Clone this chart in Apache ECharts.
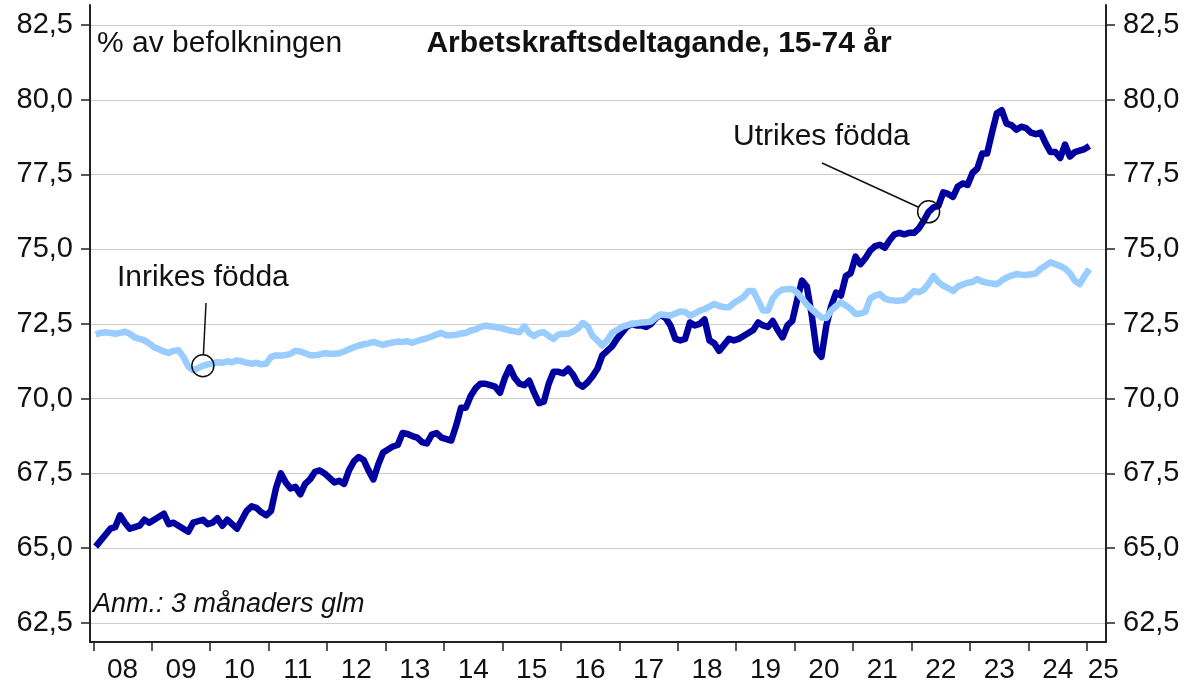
<!DOCTYPE html>
<html>
<head>
<meta charset="utf-8">
<script src="https://cdn.jsdelivr.net/npm/echarts@6.0.0/dist/echarts.min.js"></script>
<style>
  html, body { margin: 0; padding: 0; background: #fff; }
  #chart { width: 1193px; height: 688px; }
</style>
</head>
<body>
<div id="chart"></div>
<script>
// monthly data, 3 month moving average, Jan 2008 - Jan 2025
const startYear = 2008
const yearLabels = ['08', '09', '10', '11', '12', '13', '14', '15', '16', '17', '18', '19', '20', '21', '22', '23', '24', '25']
const yTicks = [62.5, 65, 67.5, 70, 72.5, 75, 77.5, 80, 82.5]

// Utrikes födda
const utrikes = [
  65.05, 65.25, 65.45, 65.65, 65.7, 66.1, 65.85, 65.65, 65.7, 65.75, 65.95, 65.85,
  65.95, 66.05, 66.15, 65.8, 65.85, 65.75, 65.65, 65.55, 65.85, 65.9, 65.95, 65.8,
  65.85, 66.0, 65.75, 65.95, 65.8, 65.65, 65.95, 66.25, 66.4, 66.35, 66.2, 66.1,
  66.25, 67.0, 67.5, 67.2, 67.0, 67.05, 66.8, 67.15, 67.3, 67.55, 67.6, 67.5,
  67.35, 67.2, 67.25, 67.15, 67.6, 67.9, 68.05, 67.95, 67.6, 67.3, 67.8, 68.2,
  68.3, 68.4, 68.45, 68.85, 68.82, 68.75, 68.7, 68.55, 68.5, 68.8, 68.85, 68.7,
  68.65, 68.6, 69.1, 69.7, 69.7, 70.1, 70.35, 70.5, 70.5, 70.45, 70.4, 70.2,
  70.7, 71.05, 70.7, 70.5, 70.45, 70.6, 70.2, 69.85, 69.9, 70.5, 70.9, 70.9,
  70.85, 71.0, 70.8, 70.5, 70.4, 70.55, 70.75, 71.0, 71.45, 71.6, 71.75, 72.0,
  72.2, 72.4, 72.5, 72.45, 72.45, 72.4, 72.5, 72.7, 72.8, 72.7, 72.45, 72.0,
  71.95, 72.0, 72.55, 72.45, 72.5, 72.65, 71.95, 71.85, 71.6, 71.8, 72.0, 71.95,
  72.0, 72.1, 72.2, 72.3, 72.55, 72.45, 72.4, 72.6, 72.3, 72.05, 72.45, 72.6,
  73.3, 73.95, 73.75, 72.8, 71.6, 71.4, 72.45, 73.1, 73.55, 73.45, 74.1, 74.2,
  74.75, 74.5, 74.7, 74.95, 75.1, 75.15, 75.05, 75.3, 75.5, 75.55, 75.5, 75.55,
  75.55, 75.7, 75.95, 76.25, 76.4, 76.45, 76.9, 76.85, 76.75, 77.1, 77.2, 77.15,
  77.55, 77.7, 78.2, 78.2, 78.9, 79.55, 79.65, 79.2, 79.15, 79.0, 79.1, 79.05,
  78.9, 78.85, 78.9, 78.55, 78.25, 78.25, 78.05, 78.5, 78.1, 78.25, 78.3, 78.35,
  78.45
]

// Inrikes födda
const inrikes = [
  72.15, 72.2, 72.22, 72.2, 72.17, 72.2, 72.24, 72.17, 72.05, 72.0, 71.95, 71.85,
  71.72, 71.65, 71.58, 71.53, 71.6, 71.62, 71.4, 71.08, 70.95, 71.02, 71.1, 71.15,
  71.17, 71.22, 71.2, 71.25, 71.22, 71.28, 71.25, 71.2, 71.17, 71.2, 71.15, 71.17,
  71.4, 71.45, 71.44, 71.46, 71.5, 71.6, 71.58, 71.52, 71.45, 71.45, 71.48, 71.52,
  71.5, 71.5, 71.52, 71.58, 71.65, 71.72, 71.78, 71.82, 71.85, 71.9, 71.85, 71.8,
  71.85, 71.88, 71.91, 71.9, 71.92, 71.87, 71.93, 71.98, 72.02, 72.08, 72.15, 72.2,
  72.12, 72.12, 72.14, 72.18, 72.2, 72.28, 72.32, 72.4, 72.44, 72.42, 72.4, 72.37,
  72.33, 72.28, 72.25, 72.22, 72.42, 72.2, 72.1, 72.2, 72.22, 72.1, 72.0, 72.15,
  72.17, 72.17, 72.25, 72.35, 72.53, 72.42, 72.1, 71.95, 71.78, 71.95, 72.2, 72.3,
  72.4, 72.45, 72.5, 72.52, 72.55, 72.56, 72.58, 72.72, 72.82, 72.8, 72.78, 72.85,
  72.92, 72.9, 72.78, 72.85, 72.94, 73.0, 73.08, 73.17, 73.1, 73.06, 73.06, 73.2,
  73.3, 73.4, 73.6, 73.6, 73.28, 72.95, 72.95, 73.35, 73.55, 73.65, 73.67, 73.67,
  73.55, 73.35, 73.15, 73.0, 72.85, 72.72, 72.7, 72.95, 73.1, 73.22, 73.12, 73.0,
  72.83, 72.85, 72.9, 73.35, 73.45, 73.5, 73.35, 73.3, 73.28, 73.28, 73.3, 73.45,
  73.6, 73.56, 73.65, 73.85, 74.1, 73.9, 73.78, 73.7, 73.6, 73.75, 73.82, 73.88,
  73.9, 74.0, 73.92, 73.88, 73.85, 73.83, 73.95, 74.05, 74.12, 74.17, 74.15, 74.14,
  74.16, 74.19, 74.35, 74.45, 74.56, 74.5, 74.44, 74.35, 74.2, 73.95, 73.83, 74.1,
  74.33
]

const FONT = '"Liberation Sans", Arial, sans-serif'
const monthX = i => startYear + (i + 0.5) / 12
const toPairs = arr => arr.map((v, i) => [monthX(i), v])

const yearTicks = yearLabels.map((l, i) => startYear + i)
const yearLabelPos = yearLabels.map((l, i) => i < yearLabels.length - 1 ? startYear + i + 0.5 : startYear + i + 0.28)

const yMin = 61.86
const yMax = 83.17

function yAxisDef (pos) {
  return {
    type: 'value',
    position: pos,
    min: yMin,
    max: yMax,
    axisLine: { show: true, lineStyle: { color: '#222', width: 2 } },
    axisTick: { show: true, inside: false, length: 9, customValues: yTicks, lineStyle: { color: '#222', width: 1.5 } },
    axisLabel: {
      customValues: yTicks,
      margin: 17,
      fontFamily: FONT,
      fontSize: 29,
      color: '#111',
      formatter: v => v.toFixed(1).replace('.', ',')
    },
    splitLine: { show: pos === 'left', lineStyle: { color: '#cccccc', width: 1 } }
  }
}

const myChart = echarts.init(document.getElementById('chart'))

const option = {
  animation: false,
  backgroundColor: '#ffffff',
  grid: { left: 90, right: 87, top: 5, bottom: 46, containLabel: false, outerBoundsMode: 'none' },
  xAxis: {
    type: 'value',
    min: 2007.944,
    max: 2025.326,
    axisLine: { show: true, onZero: false, lineStyle: { color: '#222', width: 2 } },
    axisTick: { show: true, length: 9, customValues: yearTicks, lineStyle: { color: '#222', width: 1.5 } },
    axisLabel: {
      customValues: yearLabelPos,
      margin: 14,
      fontFamily: FONT,
      fontSize: 28,
      color: '#111',
      formatter: v => yearLabels[Math.floor(v) - startYear]
    },
    splitLine: { show: false }
  },
  yAxis: [yAxisDef('left'), yAxisDef('right')],
  series: [
    {
      name: 'Utrikes födda',
      type: 'line',
      data: toPairs(utrikes),
      symbol: 'none',
      lineStyle: { color: '#0000a0', width: 6.5, join: 'round' },
      z: 3
    },
    {
      name: 'Inrikes födda',
      type: 'line',
      data: toPairs(inrikes),
      symbol: 'none',
      lineStyle: { color: '#99ccff', width: 6.5, join: 'round' },
      z: 4
    }
  ]
}
option && myChart.setOption(option)

// annotations: texts, leader lines and circles round the marked points
function leader (start, center, r) {
  const dx = start[0] - center[0]
  const dy = start[1] - center[1]
  const d = Math.sqrt(dx * dx + dy * dy)
  return [center[0] + dx / d * r, center[1] + dy / d * r]
}

const inrC = myChart.convertToPixel({ gridIndex: 0 }, [monthX(22), inrikes[22]])
const utrC = myChart.convertToPixel({ gridIndex: 0 }, [monthX(171), utrikes[171]])
const inrStart = [206, 303]
const utrStart = [822, 163]
const inrEnd = leader(inrStart, inrC, 11)
const utrEnd = leader(utrStart, utrC, 11)

const txt = (x, y, text, extra) => ({
  type: 'text',
  x: x,
  y: y,
  z: 10,
  style: Object.assign({ text: text, fill: '#111', font: '30px ' + FONT, verticalAlign: 'middle', align: 'left' }, extra || {})
})

myChart.setOption({
  graphic: [
    txt(97, 44, '% av befolkningen'),
    txt(659, 44, 'Arbetskraftsdeltagande, 15-74 år', { font: 'bold 30px ' + FONT, align: 'center' }),
    txt(117, 278, 'Inrikes födda'),
    txt(733, 137, 'Utrikes födda'),
    txt(93, 604, 'Anm.: 3 månaders glm', { font: 'italic 27px ' + FONT }),
    { type: 'line', z: 10, shape: { x1: inrStart[0], y1: inrStart[1], x2: inrEnd[0], y2: inrEnd[1] }, style: { stroke: '#111', lineWidth: 1.5 } },
    { type: 'line', z: 10, shape: { x1: utrStart[0], y1: utrStart[1], x2: utrEnd[0], y2: utrEnd[1] }, style: { stroke: '#111', lineWidth: 1.5 } },
    { type: 'circle', z: 10, shape: { cx: inrC[0], cy: inrC[1], r: 11 }, style: { stroke: '#111', lineWidth: 1.5, fill: 'transparent' } },
    { type: 'circle', z: 10, shape: { cx: utrC[0], cy: utrC[1], r: 11 }, style: { stroke: '#111', lineWidth: 1.5, fill: 'transparent' } }
  ]
})
</script>
</body>
</html>
